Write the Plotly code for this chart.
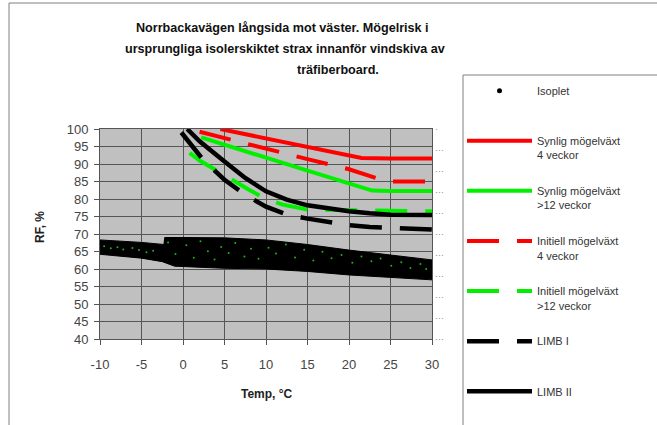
import plotly.graph_objects as go

# ---------------- data ----------------
# Synlig mögelväxt 4 veckor (red solid)
temp_synlig_4 = [4.5, 10, 15, 20, 21.5, 25, 30]
rf_synlig_4 = [100, 97.4, 95.0, 92.6, 91.7, 91.6, 91.6]

# Synlig mögelväxt >12 veckor (green solid)
temp_synlig_12 = [2.2, 5, 10, 15, 20, 22.8, 25, 30]
rf_synlig_12 = [97.6, 95.6, 91.8, 88.1, 84.4, 82.4, 82.3, 82.3]

# Initiell mögelväxt 4 veckor (red dashed)
temp_initiell_4 = [2, 6, 10, 15, 20, 24.5, 30]
rf_initiell_4 = [99.2, 96.9, 94.4, 91.4, 88.5, 85.0, 85.0]

# Initiell mögelväxt >12 veckor (green dashed)
temp_initiell_12 = [0.8, 2, 4, 6, 8, 10, 12, 15, 20, 25, 30]
rf_initiell_12 = [93.2, 91.0, 88.2, 85.3, 82.6, 80.0, 78.4, 77.0, 76.8, 76.6, 76.5]

# LIMB I (black dashed)
temp_limb1 = [-0.2, 2.5, 5, 7.5, 10, 12.5, 15, 17.5, 20, 22.5, 25, 30]
rf_limb1 = [99.0, 91.0, 85.5, 81.2, 77.8, 75.6, 74.4, 73.3, 72.5, 72.0, 71.7, 71.3]

# LIMB II (black solid)
temp_limb2 = [0.5, 2, 5, 7.5, 10, 12.5, 15, 17.5, 20, 22.5, 25, 30]
rf_limb2 = [100, 96.5, 90.7, 86.0, 82.2, 79.8, 78.2, 77.2, 76.5, 75.9, 75.5, 75.4]

# Isoplet cloud: upper and lower envelope of the measured points
iso_upper_temp = [-10, -5, -2.3, -2.2, 0, 5, 10, 15, 20, 25, 30]
iso_upper_rf = [68.3, 67.6, 67.0, 69.0, 69.0, 68.9, 68.3, 67.0, 65.4, 64.0, 62.6]
iso_lower_temp = [-10, -5, -2.5, -1, 2, 5, 10, 15, 20, 25, 30]
iso_lower_rf = [64.2, 63.1, 62.1, 60.8, 60.4, 60.2, 60.0, 59.3, 58.3, 57.5, 56.9]

# Green specks visible inside the cloud
speck_temp = [-9.5, -8.7, -7.9, -7.2, -6.1, -5.3, -4.4, -3.6, -1.8, -0.9, 0.4, 1.3, 2.1, 3.0,
              3.8, 4.6, 5.5, 6.3, 7.4, 8.2, 9.1, 10.3, 11.2, 12.4, 13.5, 14.6, 15.7, 16.8,
              17.9, 19.1, 20.4, 21.5, 22.7, 23.8, 25.1, 26.3, 27.4, 28.6, 29.3]
speck_rf = [66.5, 65.9, 66.2, 65.6, 66.0, 65.4, 64.8, 65.2, 67.6, 64.3, 66.8, 63.2, 67.9, 65.1,
            62.7, 66.3, 64.6, 67.4, 63.6, 65.8, 62.9, 66.1, 64.4, 67.0, 63.3, 65.5, 62.4, 64.9,
            63.1, 64.0, 61.8, 63.6, 62.2, 63.0, 60.9, 61.9, 60.3, 61.4, 60.0]

x_ticks = [-10, -5, 0, 5, 10, 15, 20, 25, 30]
x_ticktext = ["-10", "-5", "0", "5", "10", "15", "20", "25", "30"]
y_ticks = [40, 45, 50, 55, 60, 65, 70, 75, 80, 85, 90, 95, 100]
y2_ticks = [0, 1, 2, 3, 4, 5, 6, 7, 8, 9, 10]
y2_ticktext = ["···", "···", "···", "···", "···", "···", "···", "···", "···", "···", "·"]

title_lines = ["Norrbackavägen långsida mot väster. Mögelrisk i",
               "ursprungliga isolerskiktet strax innanför vindskiva av",
               "träfiberboard."]

# ---------------- layout helpers ----------------
W, H = 657, 425
PL, PR, PT, PB = 100, 432, 129, 339


def px(x):
    return (x - PL) / (PR - PL)


def py(y):
    return (PB - y) / (PB - PT)


FONT = "Liberation Sans, Arial, sans-serif"

fig = go.Figure()

band_x = iso_upper_temp + iso_lower_temp[::-1]
band_y = iso_upper_rf + iso_lower_rf[::-1]
fig.add_trace(go.Scatter(x=band_x, y=band_y, mode="lines", fill="toself",
                         fillcolor="black", line=dict(color="black", width=1),
                         showlegend=False, hoverinfo="skip"))
fig.add_trace(go.Scatter(x=speck_temp, y=speck_rf, mode="markers",
                         marker=dict(size=2, color="#22b022"),
                         showlegend=False, hoverinfo="skip"))

fig.add_trace(go.Scatter(x=[None], y=[None], mode="markers", name="Isoplet<br> ",
                         marker=dict(size=5, color="black"), legendgroup="g1"))

series = [
    (temp_synlig_4, rf_synlig_4, "#ff0000", "solid", 4, "Synlig mögelväxt<br>4 veckor", "g2"),
    (temp_synlig_12, rf_synlig_12, "#00f000", "solid", 4, "Synlig mögelväxt<br>>12 veckor", "g3"),
    (temp_initiell_4, rf_initiell_4, "#ff0000", "32px,18px", 4, "Initiell mögelväxt<br>4 veckor", "g4"),
    (temp_initiell_12, rf_initiell_12, "#00f000", "32px,18px", 4, "Initiell mögelväxt<br>>12 veckor", "g5"),
    (temp_limb1, rf_limb1, "#000000", "32px,18px", 4.5, "LIMB I<br> ", "g6"),
    (temp_limb2, rf_limb2, "#000000", "solid", 4.5, "LIMB II", "g7"),
]
for xs, ys, col, dash, w, name, grp in series:
    fig.add_trace(go.Scatter(x=xs, y=ys, mode="lines", name=name, legendgroup=grp,
                             line=dict(color=col, width=w, dash=dash)))

# secondary (right) axis with tiny dotted labels (attached to the LIMB II line)
fig.add_trace(go.Scatter(x=temp_limb2, y=rf_limb2, yaxis="y2", mode="lines",
                         line=dict(color="rgba(0,0,0,0)", width=0),
                         showlegend=False, hoverinfo="skip"))

axis_common = dict(showgrid=True, gridcolor="#555555", gridwidth=1, zeroline=False,
                   showline=True, linecolor="#555555", linewidth=1, mirror=True,
                   ticks="outside", ticklen=5, tickcolor="#555555",
                   tickfont=dict(family=FONT, size=13, color="#444444"))

fig.update_layout(
    width=W, height=H,
    margin=dict(l=PL, r=W - PR, t=PT, b=H - PB, autoexpand=False),
    paper_bgcolor="white",
    plot_bgcolor="#c0c0c0",
    font=dict(family=FONT, size=11, color="#333333"),
    xaxis=dict(range=[-10, 30], tickvals=x_ticks, ticktext=x_ticktext,
               ticklabelstandoff=8, **axis_common),
    yaxis=dict(range=[40, 100], tickvals=y_ticks, ticklabelstandoff=3, **axis_common),
    yaxis2=dict(overlaying="y", side="right", range=[0, 10], tickvals=y2_ticks,
                ticktext=y2_ticktext, showgrid=False, zeroline=False, showline=False,
                ticks="", ticklabelstandoff=2,
                tickfont=dict(family=FONT, size=9, color="#8a8a8a")),
    legend=dict(x=px(462), y=py(77), xanchor="left", yanchor="top", maxheight=400,
                bgcolor="rgba(0,0,0,0)", borderwidth=0, itemwidth=65,
                traceorder="grouped", tracegroupgap=18.5, valign="top",
                font=dict(family=FONT, size=11, color="#333333")),
    showlegend=True,
)

annots = [
    dict(text=f"<b>{title_lines[0]}</b>", x=px(282), y=py(28)),
    dict(text=f"<b>{title_lines[1]}</b>", x=px(285), y=py(49)),
    dict(text=f"<b>{title_lines[2]}</b>", x=px(338), y=py(70)),
]
for a in annots:
    fig.add_annotation(xref="paper", yref="paper", xanchor="center", yanchor="middle",
                       showarrow=False, font=dict(family=FONT, size=12.6, color="#111111"), **a)

fig.add_annotation(text="<b>RF, %</b>", xref="paper", yref="paper", x=px(40), y=py(227),
                   textangle=-90, showarrow=False, xanchor="center", yanchor="middle",
                   font=dict(family=FONT, size=12, color="#222222"))
fig.add_annotation(text="<b>Temp, °C</b>", xref="paper", yref="paper", x=px(267), y=py(394),
                   showarrow=False, xanchor="center", yanchor="middle",
                   font=dict(family=FONT, size=12, color="#222222"))

# chart-area frame and legend frame (extend past the window edges like the original)
fig.add_shape(type="rect", xref="paper", yref="paper", x0=px(9), y0=py(H + 20), x1=px(W + 20), y1=py(3),
              line=dict(color="#808080", width=1), fillcolor="rgba(0,0,0,0)", layer="above")
fig.add_shape(type="rect", xref="paper", yref="paper", x0=px(463), y0=py(H + 20), x1=px(W + 20), y1=py(75),
              line=dict(color="#808080", width=1), fillcolor="rgba(0,0,0,0)", layer="above")

fig.write_html("out.html")
